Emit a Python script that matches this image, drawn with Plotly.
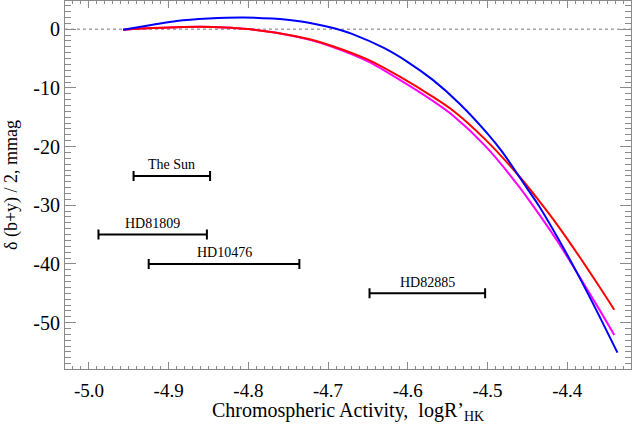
import plotly.graph_objects as go

# ---- data ----
blue_x = [-4.957, -4.92, -4.89, -4.85, -4.807, -4.77, -4.736, -4.712, -4.688, -4.67,
          -4.63, -4.60, -4.569, -4.535, -4.50, -4.481, -4.456, -4.435, -4.41, -4.385,
          -4.36, -4.337]
blue_y = [-0.1, 0.75, 1.40, 1.82, 2.0, 1.8, 1.35, 0.75, 0.0, -0.8,
          -3.2, -5.6, -8.6, -12.7, -17.8, -21.0, -26.0, -30.2, -36.0, -42.2,
          -48.8, -55.1]

red_x = [-4.957, -4.92, -4.89, -4.86, -4.83, -4.80, -4.765, -4.723, -4.694, -4.65,
         -4.61, -4.57, -4.543, -4.502, -4.46, -4.435, -4.41, -4.385, -4.36, -4.341]
red_y = [-0.1, 0.2, 0.34, 0.4, 0.3, 0.02, -0.6, -1.72, -2.9, -5.2,
         -8.1, -11.4, -13.9, -18.9, -25.1, -29.3, -33.8, -38.7, -43.8, -47.8]

magenta_x = [-4.957, -4.92, -4.89, -4.86, -4.83, -4.80, -4.765, -4.723, -4.694, -4.65,
             -4.61, -4.57, -4.543, -4.502, -4.46, -4.435, -4.41, -4.385, -4.36, -4.341]
magenta_y = [-0.1, 0.2, 0.34, 0.4, 0.3, 0.02, -0.62, -1.82, -3.05, -5.5,
             -8.65, -12.1, -14.75, -20.0, -26.9, -31.6, -36.6, -42.1, -47.7, -52.1]

star_names = ["The Sun", "HD81809", "HD10476", "HD82885"]
star_lo = [-4.944, -4.988, -4.925, -4.648]
star_hi = [-4.848, -4.852, -4.736, -4.503]
star_y = [-25, -35, -40, -45]

x_ticks = [-5.0, -4.9, -4.8, -4.7, -4.6, -4.5, -4.4]
x_ticktext = ["-5.0", "-4.9", "-4.8", "-4.7", "-4.6", "-4.5", "-4.4"]
y_ticks = [0, -10, -20, -30, -40, -50]
y_ticktext = ["0", "-10", "-20", "-30", "-40", "-50"]

X_RANGE = [-5.03, -4.32]
Y_RANGE = [-57.9, 4.8]

FONT = "Liberation Serif"
AX = "#8a8a8a"

fig = go.Figure()

# zero reference line
fig.add_trace(go.Scatter(x=X_RANGE, y=[0, 0], mode="lines",
                         line=dict(color="#777777", width=1, dash="dot"),
                         hoverinfo="skip", showlegend=False))

for xs, ys, col in [(magenta_x, magenta_y, "#ff00ff"), (red_x, red_y, "#ff0000"),
                    (blue_x, blue_y, "#0000ff")]:
    fig.add_trace(go.Scatter(x=xs, y=ys, mode="lines",
                             line=dict(color=col, width=2, shape="spline", smoothing=0.8),
                             showlegend=False))

centers = [(a + b) / 2 for a, b in zip(star_lo, star_hi)]
halfw = [(b - a) / 2 for a, b in zip(star_lo, star_hi)]
fig.add_trace(go.Scatter(x=centers, y=star_y, mode="markers",
                         marker=dict(size=1, opacity=0),
                         error_x=dict(type="data", array=halfw, symmetric=True,
                                      color="black", thickness=2, width=5),
                         hoverinfo="skip", showlegend=False))

for name, c, y in zip(star_names, centers, star_y):
    fig.add_annotation(x=c, y=y, text=name, showarrow=False, yshift=11,
                       font=dict(family=FONT, size=14, color="black"))

axis_common = dict(showline=True, linecolor=AX, linewidth=1, mirror="ticks",
                   ticks="inside", tickcolor=AX, showgrid=False, zeroline=False,
                   automargin=False)

fig.update_layout(
    width=632, height=424,
    margin=dict(l=65, r=1, t=1, b=55),
    plot_bgcolor="white", paper_bgcolor="white",
    font=dict(family=FONT, color="black"),
    xaxis=dict(range=X_RANGE, tickvals=x_ticks, ticktext=x_ticktext,
               ticklen=7, ticklabelstandoff=4,
               tickfont=dict(family=FONT, size=19, color="black"),
               minor=dict(dtick=0.01, tick0=-5.0, ticks="inside", ticklen=3,
                          tickcolor=AX, showgrid=False),
               title=dict(text="Chromospheric Activity,  logR’<sub>HK</sub>",
                          font=dict(family=FONT, size=20, color="black"), standoff=4),
               **axis_common),
    yaxis=dict(range=Y_RANGE, tickvals=y_ticks, ticktext=y_ticktext,
               ticklen=11,
               tickfont=dict(family=FONT, size=20, color="black"),
               minor=dict(dtick=1, tick0=0, ticks="inside", ticklen=6,
                          tickcolor=AX, showgrid=False),
               title=dict(text="δ (b+y) / 2, mmag",
                          font=dict(family=FONT, size=18, color="black"), standoff=11),
               **axis_common),
)

fig.write_html("out.html", config={"displayModeBar": False},
               post_script="document.body.style.margin='0px';")
